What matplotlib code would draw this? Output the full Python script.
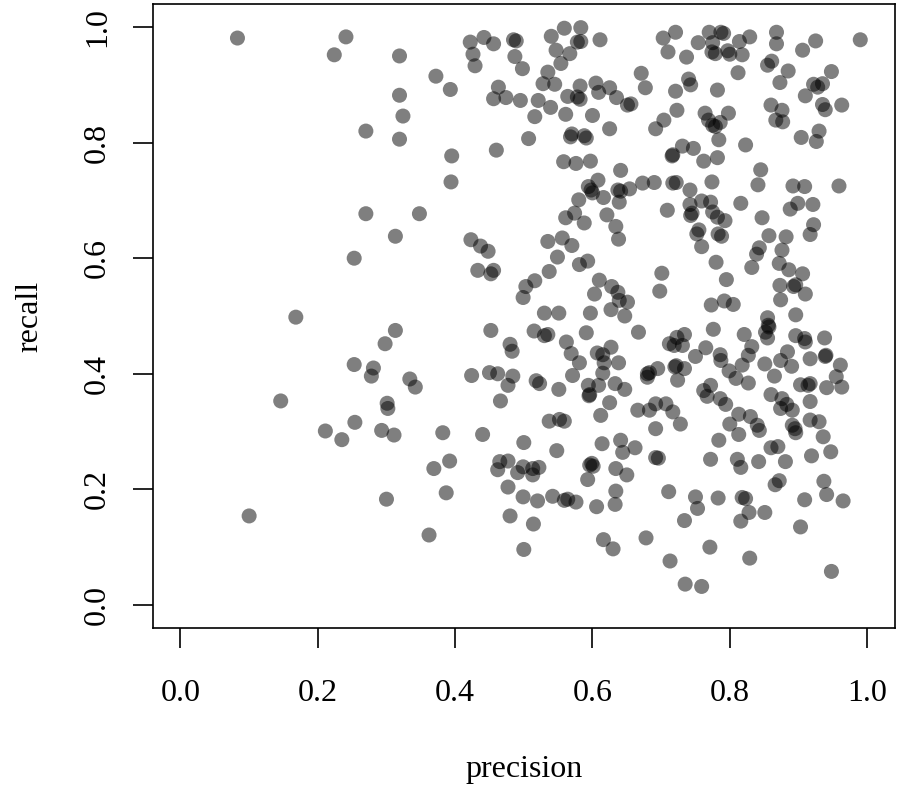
import matplotlib.pyplot as plt

# values
precision = [
    0.083, 0.224, 0.241, 0.319, 0.319, 0.324, 0.319, 0.27, 0.27, 0.313,
    0.253, 0.168, 0.313, 0.298, 0.253, 0.281, 0.278, 0.146, 0.301, 0.302,
    0.254, 0.211, 0.235, 0.293, 0.311, 0.3, 0.1, 0.334, 0.342, 0.348,
    0.362, 0.369, 0.392, 0.387, 0.382,
    # upper middle
    0.422, 0.442, 0.456, 0.485, 0.489, 0.426, 0.429, 0.487, 0.498, 0.54,
    0.559, 0.583, 0.578, 0.583, 0.611, 0.547, 0.567, 0.554, 0.372, 0.393,
    0.535, 0.528, 0.545, 0.463, 0.456, 0.474, 0.495, 0.521, 0.539, 0.564,
    0.582, 0.578, 0.582, 0.605, 0.609, 0.625, 0.635, 0.651, 0.656, 0.671,
    0.677, 0.516, 0.561, 0.6, 0.57, 0.568, 0.588, 0.591, 0.625, 0.507,
    0.46, 0.395, 0.394, 0.558, 0.576, 0.597, 0.641, 0.608, 0.594, 0.6,
    0.598, 0.616, 0.637, 0.641, 0.654, 0.639, 0.673, 0.69, 0.58, 0.692,
    # upper right
    0.703, 0.721, 0.71, 0.737, 0.754, 0.77, 0.787, 0.791, 0.775, 0.774,
    0.779, 0.797, 0.8, 0.814, 0.818, 0.829, 0.868, 0.868, 0.855, 0.861,
    0.906, 0.925, 0.99, 0.812, 0.885, 0.873, 0.948, 0.922, 0.935, 0.928,
    0.91, 0.74, 0.743, 0.721, 0.782, 0.723, 0.704, 0.764, 0.798, 0.769,
    0.775, 0.779, 0.786, 0.784, 0.823, 0.86, 0.876, 0.867, 0.877, 0.935,
    0.939, 0.963, 0.904, 0.93, 0.926, 0.731, 0.747, 0.716, 0.717, 0.762,
    0.782, 0.845, 0.717, 0.722, 0.742, 0.774, 0.841, 0.892, 0.909, 0.959,
    0.709, 0.742, 0.759, 0.772, 0.745, 0.743, 0.775, 0.816, 0.899, 0.888,
    0.921,
    # middle
    0.561, 0.574, 0.588, 0.621, 0.634, 0.638, 0.423, 0.437, 0.448, 0.433,
    0.452, 0.456, 0.535, 0.556, 0.57, 0.549, 0.581, 0.593, 0.537, 0.516,
    0.503, 0.499, 0.61, 0.603, 0.628, 0.637, 0.639, 0.651, 0.627, 0.647,
    0.53, 0.551, 0.597, 0.452, 0.515, 0.53, 0.535, 0.591, 0.667, 0.48,
    0.483, 0.562, 0.569, 0.581, 0.571, 0.607, 0.615, 0.627, 0.617, 0.638,
    0.615, 0.424, 0.45, 0.462, 0.484, 0.477, 0.518, 0.523, 0.551, 0.466,
    0.594, 0.595, 0.596, 0.609, 0.633, 0.647, 0.625, 0.612, 0.68, 0.683,
    0.68, 0.666, 0.683, 0.537, 0.552, 0.559,
    # middle right
    0.782, 0.793, 0.847, 0.922, 0.917, 0.755, 0.752, 0.783, 0.788, 0.759,
    0.857, 0.882, 0.843, 0.839, 0.876, 0.832, 0.872, 0.886, 0.906, 0.78,
    0.701, 0.698, 0.795, 0.873, 0.893, 0.896, 0.91, 0.874, 0.773, 0.792,
    0.805, 0.896, 0.855, 0.857, 0.856, 0.852, 0.855, 0.776, 0.821, 0.896,
    0.909, 0.91, 0.938, 0.939, 0.94, 0.734, 0.723, 0.712, 0.719, 0.731,
    0.765, 0.75, 0.786, 0.787, 0.832, 0.827, 0.818, 0.799, 0.809, 0.827,
    0.851, 0.874, 0.884, 0.89, 0.917, 0.865, 0.961, 0.955, 0.963, 0.941,
    0.903, 0.917, 0.914, 0.72, 0.722, 0.734, 0.695, 0.724, 0.772, 0.762,
    0.767, 0.786, 0.794, 0.86, 0.876, 0.883, 0.891, 0.874, 0.917, 0.692,
    0.707, 0.717, 0.813, 0.83, 0.917, 0.93,
    # lower middle
    0.44, 0.5, 0.548, 0.614, 0.641, 0.644, 0.662, 0.465, 0.477, 0.462,
    0.499, 0.491, 0.513, 0.513, 0.522, 0.477, 0.499, 0.52, 0.48, 0.514,
    0.5, 0.542, 0.559, 0.564, 0.576, 0.596, 0.601, 0.599, 0.593, 0.606,
    0.634, 0.65, 0.634, 0.633, 0.616, 0.63, 0.678,
    # lower right
    0.692, 0.728, 0.8, 0.84, 0.843, 0.813, 0.784, 0.891, 0.895, 0.896,
    0.936, 0.86, 0.87, 0.692, 0.696, 0.772, 0.811, 0.816, 0.842, 0.881,
    0.919, 0.947, 0.872, 0.866, 0.937, 0.941, 0.965, 0.909, 0.903, 0.711,
    0.75, 0.753, 0.783, 0.818, 0.823, 0.828, 0.816, 0.851, 0.734, 0.771,
    0.713, 0.735, 0.759, 0.829, 0.948,
]
recall = [
    0.981, 0.952, 0.983, 0.95, 0.882, 0.846, 0.806, 0.82, 0.677, 0.638,
    0.6, 0.498, 0.475, 0.452, 0.416, 0.41, 0.396, 0.353, 0.349, 0.34,
    0.316, 0.301, 0.286, 0.302, 0.294, 0.183, 0.154, 0.391, 0.377, 0.677,
    0.121, 0.236, 0.249, 0.194, 0.298,
    # upper middle
    0.974, 0.982, 0.971, 0.978, 0.976, 0.953, 0.933, 0.949, 0.928, 0.984,
    0.998, 0.999, 0.974, 0.975, 0.978, 0.96, 0.954, 0.937, 0.915, 0.892,
    0.922, 0.902, 0.901, 0.896, 0.876, 0.878, 0.873, 0.873, 0.861, 0.88,
    0.898, 0.879, 0.875, 0.903, 0.887, 0.895, 0.878, 0.865, 0.867, 0.92,
    0.895, 0.845, 0.849, 0.847, 0.815, 0.81, 0.812, 0.808, 0.824, 0.807,
    0.787, 0.777, 0.732, 0.767, 0.764, 0.768, 0.752, 0.735, 0.724, 0.713,
    0.718, 0.705, 0.718, 0.716, 0.72, 0.697, 0.73, 0.731, 0.701, 0.824,
    # upper right
    0.981, 0.991, 0.957, 0.948, 0.973, 0.991, 0.991, 0.989, 0.973, 0.957,
    0.954, 0.959, 0.953, 0.975, 0.952, 0.983, 0.991, 0.971, 0.934, 0.941,
    0.96, 0.976, 0.978, 0.921, 0.924, 0.904, 0.923, 0.901, 0.902, 0.896,
    0.881, 0.91, 0.9, 0.889, 0.891, 0.856, 0.839, 0.851, 0.851, 0.839,
    0.83, 0.828, 0.835, 0.805, 0.796, 0.865, 0.856, 0.839, 0.836, 0.866,
    0.857, 0.865, 0.809, 0.82, 0.802, 0.794, 0.79, 0.777, 0.779, 0.768,
    0.774, 0.753, 0.73, 0.731, 0.718, 0.732, 0.727, 0.725, 0.724, 0.725,
    0.683, 0.693, 0.699, 0.697, 0.678, 0.674, 0.68, 0.695, 0.695, 0.685,
    0.693,
    # middle
    0.67, 0.678, 0.661, 0.675, 0.655, 0.633, 0.632, 0.621, 0.612, 0.579,
    0.573, 0.579, 0.629, 0.635, 0.622, 0.602, 0.589, 0.595, 0.577, 0.561,
    0.551, 0.532, 0.562, 0.538, 0.551, 0.541, 0.527, 0.524, 0.511, 0.5,
    0.505, 0.505, 0.505, 0.475, 0.474, 0.466, 0.468, 0.471, 0.472, 0.451,
    0.439, 0.455, 0.435, 0.419, 0.397, 0.436, 0.433, 0.446, 0.419, 0.419,
    0.401, 0.397, 0.402, 0.4, 0.396, 0.38, 0.388, 0.383, 0.373, 0.353,
    0.38, 0.362, 0.364, 0.38, 0.383, 0.373, 0.35, 0.328, 0.4, 0.402,
    0.394, 0.337, 0.337, 0.318, 0.321, 0.318,
    # middle right
    0.671, 0.665, 0.67, 0.658, 0.641, 0.649, 0.642, 0.642, 0.638, 0.62,
    0.639, 0.637, 0.618, 0.607, 0.614, 0.584, 0.591, 0.58, 0.573, 0.593,
    0.574, 0.543, 0.563, 0.553, 0.551, 0.554, 0.538, 0.528, 0.519, 0.526,
    0.52, 0.502, 0.497, 0.481, 0.484, 0.472, 0.462, 0.477, 0.468, 0.466,
    0.461, 0.455, 0.462, 0.43, 0.432, 0.468, 0.463, 0.452, 0.449, 0.449,
    0.445, 0.43, 0.433, 0.423, 0.447, 0.432, 0.415, 0.405, 0.392, 0.384,
    0.417, 0.423, 0.438, 0.413, 0.426, 0.396, 0.415, 0.395, 0.377, 0.376,
    0.381, 0.383, 0.38, 0.412, 0.414, 0.409, 0.409, 0.389, 0.38, 0.371,
    0.361, 0.357, 0.347, 0.364, 0.357, 0.347, 0.337, 0.34, 0.352, 0.348,
    0.348, 0.334, 0.33, 0.326, 0.32, 0.317,
    # lower middle
    0.295, 0.281, 0.267, 0.279, 0.285, 0.264, 0.272, 0.248, 0.249, 0.234,
    0.239, 0.229, 0.236, 0.225, 0.238, 0.204, 0.187, 0.18, 0.154, 0.14,
    0.096, 0.188, 0.181, 0.183, 0.178, 0.242, 0.24, 0.245, 0.217, 0.17,
    0.236, 0.225, 0.197, 0.174, 0.113, 0.097, 0.116,
    # lower right
    0.305, 0.313, 0.313, 0.311, 0.302, 0.295, 0.285, 0.311, 0.305, 0.298,
    0.291, 0.272, 0.274, 0.255, 0.254, 0.252, 0.252, 0.238, 0.248, 0.248,
    0.258, 0.265, 0.215, 0.208, 0.214, 0.191, 0.18, 0.182, 0.135, 0.196,
    0.187, 0.167, 0.185, 0.186, 0.184, 0.16, 0.145, 0.16, 0.146, 0.1,
    0.076, 0.036, 0.032, 0.081, 0.058,
]

ticks = [0.0, 0.2, 0.4, 0.6, 0.8, 1.0]
tick_labels = ['0.0', '0.2', '0.4', '0.6', '0.8', '1.0']

plt.rcParams['font.family'] = ['Liberation Serif', 'DejaVu Serif']

fig = plt.figure(figsize=(9, 7.9), dpi=100)
ax = fig.add_axes([0.17, 0.205, 0.824, 0.79])

ax.scatter(precision, recall, s=117, c='black', alpha=0.5, edgecolors='none')

ax.set_xlim(-0.04, 1.04)
ax.set_ylim(-0.04, 1.04)
ax.set_xticks(ticks)
ax.set_xticklabels(tick_labels)
ax.set_yticks(ticks)
ax.set_yticklabels(tick_labels, rotation=90, va='center')

for s in ax.spines.values():
    s.set_linewidth(1.2)
ax.tick_params(axis='both', length=14.5, width=1.2, labelsize=23)
ax.tick_params(axis='x', pad=22)
ax.tick_params(axis='y', pad=15)

ax.set_xlabel('precision', fontsize=23, labelpad=34)
ax.set_ylabel('recall', fontsize=23, labelpad=28)

fig.savefig('out.png', dpi=100)
